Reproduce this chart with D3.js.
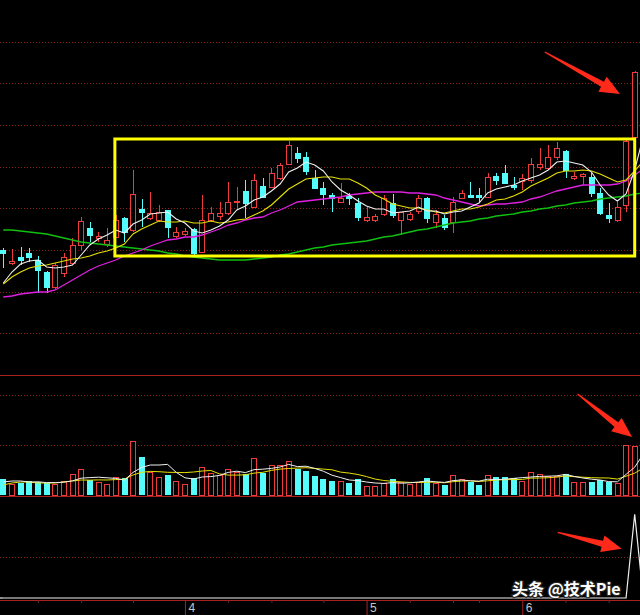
<!DOCTYPE html>
<html>
<head>
<meta charset="utf-8">
<script src="https://cdn.jsdelivr.net/npm/d3@7"></script>
<style>
html, body { margin: 0; padding: 0; background: #000; overflow: hidden; }
</style>
</head>
<body>
<script>
// daily candles (price, yuan)
var opens  = [5.81,5.68,5.74,5.78,5.71,5.59,5.44,5.58,5.68,5.86, 6.03,5.93,5.87,5.94,6.13,6.01,6.22,6.13,6.11,6.21,
              5.95,5.97,6.02,5.79,6.11,6.15,6.18,6.29,6.40,6.24, 6.45,6.44,6.53,6.67,6.78,6.74,6.53,6.43,6.36,6.29,
              6.35,6.28,6.11,6.11,6.17,6.28,6.11,6.12,6.20,6.33, 6.09,6.13,6.09,6.33,6.36,6.36,6.34,6.55,6.58,6.46,
              6.50,6.51,6.64,6.63,6.74,6.80,6.53,6.55,6.54,6.38, 6.16,6.11,6.26,6.94];
var closes = [5.78,5.70,5.71,5.74,5.61,5.44,5.66,5.74,5.86,6.10, 5.96,5.95,5.91,6.11,5.99,6.37,6.19,6.18,6.19,6.04,
              5.99,6.00,5.78,6.11,6.18,6.18,6.29,6.30,6.28,6.51, 6.34,6.58,6.66,6.86,6.73,6.60,6.43,6.37,6.33,6.33,
              6.33,6.14,6.14,6.15,6.33,6.16,6.19,6.17,6.33,6.13, 6.17,6.04,6.29,6.38,6.34,6.34,6.54,6.51,6.48,6.44,
              6.53,6.67,6.67,6.74,6.83,6.61,6.55,6.57,6.38,6.18, 6.13,6.24,6.90,7.59];
var highs  = [5.83,5.82,5.84,5.83,5.75,5.60,5.68,5.78,5.93,6.14, 6.09,5.99,6.03,6.16,6.14,6.61,6.32,6.39,6.26,6.21,
              6.04,6.03,6.03,6.36,6.24,6.29,6.49,6.44,6.51,6.57, 6.53,6.63,6.68,6.90,6.84,6.79,6.61,6.49,6.38,6.48,
              6.38,6.33,6.24,6.17,6.36,6.37,6.19,6.19,6.36,6.34, 6.21,6.16,6.34,6.41,6.49,6.43,6.58,6.58,6.66,6.54,
              6.57,6.73,6.83,6.86,6.89,6.81,6.59,6.58,6.58,6.43, 6.28,6.29,6.91,7.60];
var lows   = [5.63,5.66,5.66,5.69,5.38,5.38,5.42,5.54,5.66,5.81, 5.89,5.89,5.84,5.93,5.89,5.99,6.04,6.11,6.09,5.93,
              5.93,5.95,5.76,5.78,6.09,6.11,6.16,6.21,6.13,6.23, 6.33,6.43,6.51,6.66,6.68,6.56,6.42,6.26,6.19,6.28,
              6.26,6.10,6.09,6.09,6.15,6.13,5.96,6.10,6.17,6.08, 6.03,6.01,5.98,6.32,6.33,6.29,6.34,6.46,6.47,6.41,
              6.41,6.48,6.61,6.61,6.71,6.53,6.51,6.46,6.34,6.16, 6.08,6.09,6.19,6.91];

// volume (10k lots)
var volumes = [16,11,12,14,13,12,11,14,21,26, 15,13,11,18,17,54,38,23,18,20, 14,11,17,28,22,20,26,23,21,37,
               22,30,30,34,26,24,19,16,14,14, 12,16,9,9,12,16,13,11,13,17, 12,10,20,16,13,10,20,18,18,17,
               14,23,21,19,19,21,13,13,13,15, 13,12,50,49];

// moving averages (last value belongs to the next, off-screen day)
var ma5  = [5.48,5.59,5.67,5.70,5.71,5.64,5.63,5.64,5.66,5.76, 5.86,5.92,5.96,6.01,5.98,6.07,6.11,6.17,6.18,6.19,
            6.12,6.08,6.00,5.98,6.01,6.05,6.11,6.21,6.25,6.31, 6.34,6.40,6.47,6.59,6.63,6.69,6.66,6.60,6.49,6.41,
            6.36,6.30,6.25,6.22,6.22,6.18,6.19,6.20,6.24,6.20, 6.20,6.17,6.19,6.20,6.24,6.28,6.38,6.42,6.44,6.46,
            6.50,6.53,6.56,6.61,6.69,6.70,6.68,6.66,6.59,6.46, 6.36,6.30,6.37,6.61,6.95];
var ma10 = [5.47,5.54,5.59,5.63,5.65,5.66,5.68,5.70,5.72,5.73, 5.75,5.78,5.80,5.83,5.87,5.97,6.02,6.06,6.10,6.09,
            6.09,6.10,6.08,6.08,6.10,6.08,6.09,6.11,6.12,6.16, 6.20,6.26,6.34,6.42,6.47,6.52,6.53,6.54,6.54,6.52,
            6.52,6.48,6.43,6.36,6.32,6.27,6.25,6.23,6.23,6.21, 6.19,6.18,6.20,6.22,6.22,6.24,6.27,6.31,6.32,6.35,
            6.39,6.45,6.49,6.53,6.58,6.60,6.60,6.61,6.60,6.57, 6.53,6.49,6.51,6.60,6.70];
var ma20 = [5.34,5.35,5.37,5.38,5.39,5.39,5.41,5.46,5.51,5.56, 5.61,5.65,5.68,5.71,5.75,5.78,5.81,5.85,5.88,5.91,
            5.92,5.94,5.94,5.96,5.99,6.02,6.06,6.08,6.11,6.13, 6.14,6.18,6.21,6.25,6.29,6.30,6.31,6.32,6.33,6.34,
            6.36,6.37,6.38,6.39,6.39,6.39,6.39,6.38,6.38,6.37, 6.36,6.33,6.31,6.29,6.27,6.25,6.26,6.27,6.27,6.28,
            6.29,6.32,6.34,6.37,6.40,6.42,6.44,6.46,6.46,6.46, 6.46,6.47,6.50,6.56,6.62];
var ma60 = [6.01,6.01,6.00,5.99,5.98,5.97,5.95,5.93,5.91,5.89, 5.88,5.87,5.86,5.85,5.84,5.83,5.82,5.81,5.80,5.78,
            5.77,5.75,5.74,5.73,5.72,5.71,5.71,5.71,5.71,5.72, 5.73,5.74,5.76,5.77,5.79,5.81,5.83,5.84,5.86,5.87,
            5.88,5.89,5.90,5.92,5.94,5.95,5.97,5.99,6.01,6.02, 6.04,6.06,6.08,6.09,6.10,6.12,6.13,6.15,6.16,6.17,
            6.19,6.20,6.22,6.23,6.25,6.26,6.28,6.29,6.30,6.32, 6.33,6.34,6.35,6.37,6.38];
var volMa5  = [13,14,14,13,13.2,12.4,12.4,12.8,14.2,16.8, 17.4,17.8,17.2,16.6,14.8,22.6,27.6,30,30,30.6,
               22.6,17.2,16,18,18.4,19.6,22.6,23.8,22.4,25.4, 25.8,26.6,28,30.6,28.4,28.8,26.6,23.8,19.8,17.4,
               15,14.4,13,12,11.6,12.4,11.8,12.2,13,14, 13.2,12.6,14.4,15,14.2,13.8,15.8,15.4,15.8,16.6,
               17.4,18,18.6,18.8,19.2,20.6,18.6,17,15.8,15, 13.4,13.2,20.6,27.8,41];
var volMa10 = [10,12,13,13,12,12,12,13,14,15, 14.9,15.1,15,15.4,15.8,20,22.7,23.6,23.3,22.7,
               22.6,22.4,23,24,24.5,21.1,19.9,19.9,20.2,21.9, 22.7,24.6,25.9,26.5,26.9,27.3,26.6,25.9,25.2,22.9,
               21.9,20.5,18.4,15.9,14.5,13.7,13.1,12.6,12.5,12.8, 12.8,12.2,13.3,14,14.1,13.5,14.2,14.9,15.4,15.4,
               15.6,16.9,17,17.3,17.9,19,18.3,17.8,17.3,17.1, 17,15.9,18.8,21.8,27];

// bottom indicator
var signal = [0,0,0,0,0,0,0,0,0,0, 0,0,0,0,0,0,0,0,0,0, 0,0,0,0,0,0,0,0,0,0, 0,0,0,0,0,0,0,0,0,0,
              0,0,0,0,0,0,0,0,0,0, 0,0,0,0,0,0,0,0,0,0, 0,0,0,0,0,0,0,0,0,0, 0,0,0,102,0];

// x axis: month starts and weekly marks (day index)
var monthTicks = [21, 42, 60];
var monthLabels = ['4', '5', '6'];
var weekTicks = [4, 9, 15, 26, 31, 37, 47, 52, 55, 65, 70];

// annotations, in day index / value units
var boxDays = [12.9, 73], boxPrices = [5.75, 6.92];
var arrowPrice = [[62.6, 7.79], [71.3, 7.37]];
var arrowVol = [[66.4, 101], [72.7, 58]];
var arrowSig = [[64.1, 80], [71.5, 60]];

var W = 640, H = 615;
var RED = '#ee3b3b', CYAN = '#54fcfc', GRID = '#8a1e1e', LINE = '#a82222';

var svg = d3.select('body').append('svg')
  .attr('width', W).attr('height', H)
  .style('background', '#000')
  .style('display', 'block');

var n = closes.length;
var x = d3.scaleLinear().domain([0, n - 1]).range([3.3, 634.7]);
var bw = (x(1) - x(0)) * 0.66;
var y = d3.scaleLinear().domain([4.56, 8.31]).range([375, 0]);
var vy = d3.scaleLinear().domain([0, 120]).range([495, 375]);
var sy = d3.scaleLinear().domain([0, 123]).range([598, 497]);

function up(i){ return closes[i] >= opens[i]; }
function px(v){ return Math.round(v) + 0.5; }

// grid
var grid = svg.append('g');
var gy = d3.range(1, 9).map(function(k){ return 375 * k / 9; })
  .concat([vy(50), vy(100), sy(50)]);
grid.selectAll('line.dot').data(gy).enter().append('line')
  .attr('x1', 0).attr('x2', W)
  .attr('y1', function(d){ return px(d); }).attr('y2', function(d){ return px(d); })
  .attr('stroke', GRID).attr('stroke-dasharray', '1,2');
grid.selectAll('line.sep').data([375, 496, 600]).enter().append('line')
  .attr('x1', 0).attr('x2', W)
  .attr('y1', function(d){ return d + 0.5; }).attr('y2', function(d){ return d + 0.5; })
  .attr('stroke', LINE);

// candles
var days = d3.range(n);
var cg = svg.append('g').attr('shape-rendering', 'crispEdges');
cg.selectAll('line.wick').data(days).enter().append('line')
  .attr('x1', function(i){ return px(x(i)); }).attr('x2', function(i){ return px(x(i)); })
  .attr('y1', function(i){ return y(highs[i]); }).attr('y2', function(i){ return y(lows[i]); })
  .attr('stroke', function(i){ return up(i) ? RED : CYAN; });
cg.selectAll('rect.body').data(days).enter().append('rect')
  .attr('x', function(i){ return up(i) ? px(x(i) - bw / 2) : Math.round(x(i) - bw / 2); })
  .attr('width', function(i){ return up(i) ? Math.round(bw) - 1 : Math.round(bw); })
  .attr('y', function(i){ var t = Math.round(y(Math.max(opens[i], closes[i]))); return up(i) ? t + 0.5 : t; })
  .attr('height', function(i){
    var t = Math.round(y(Math.max(opens[i], closes[i]))), b = Math.round(y(Math.min(opens[i], closes[i])));
    return Math.max(up(i) ? b - t : b - t + 1, 1);
  })
  .attr('fill', function(i){ return up(i) ? '#000' : CYAN; })
  .attr('stroke', function(i){ return up(i) ? RED : 'none'; });

// volume bars
var vg = svg.append('g').attr('shape-rendering', 'crispEdges');
vg.selectAll('rect').data(days).enter().append('rect')
  .attr('x', function(i){ return up(i) ? px(x(i) - bw / 2) : Math.round(x(i) - bw / 2); })
  .attr('width', function(i){ return up(i) ? Math.round(bw) - 1 : Math.round(bw); })
  .attr('y', function(i){ return up(i) ? px(vy(volumes[i])) : Math.round(vy(volumes[i])); })
  .attr('height', function(i){ return Math.round(vy(0)) - Math.round(vy(volumes[i])); })
  .attr('fill', function(i){ return up(i) ? '#000' : CYAN; })
  .attr('stroke', function(i){ return up(i) ? RED : 'none'; });

// lines
function drawLine(vals, scale, color, width){
  svg.append('path').datum(vals)
    .attr('d', d3.line().x(function(d, i){ return x(i); }).y(function(d){ return scale(d); }))
    .attr('fill', 'none').attr('stroke', color).attr('stroke-width', width);
}
drawLine(ma60, y, '#10c010', 1.3);
drawLine(ma20, y, '#e020e0', 1.3);
drawLine(ma10, y, '#e8e000', 1.1);
drawLine(ma5, y, '#f0f0f0', 1.1);
drawLine(volMa10, vy, '#e8e000', 1);
drawLine(volMa5, vy, '#f0f0f0', 1);
svg.append('line').attr('x1', 0).attr('x2', x(0)).attr('y1', sy(0)).attr('y2', sy(0))
  .attr('stroke', '#f0f0f0').attr('stroke-width', 1.2);
drawLine(signal, sy, '#f0f0f0', 1.2);

// x axis
var axis = svg.append('g').attr('transform', 'translate(0,600)')
  .call(d3.axisBottom(x).tickValues(monthTicks).tickSize(15)
    .tickFormat(function(d, i){ return monthLabels[i]; }));
axis.select('.domain').remove();
axis.selectAll('line').attr('stroke', LINE);
axis.selectAll('text')
  .attr('x', 3).attr('y', 3).attr('dy', '0.71em')
  .style('text-anchor', 'start')
  .attr('fill', '#c8c8c8')
  .style('font', '12px "Liberation Sans", Arial, sans-serif');
var minor = svg.append('g').attr('transform', 'translate(0,600)')
  .call(d3.axisBottom(x).tickValues(weekTicks).tickSize(3).tickFormat(''));
minor.select('.domain').remove();
minor.selectAll('line').attr('stroke', '#7a2020');

// yellow box
svg.append('rect')
  .attr('x', x(boxDays[0])).attr('y', y(boxPrices[1]))
  .attr('width', x(boxDays[1]) - x(boxDays[0]))
  .attr('height', y(boxPrices[0]) - y(boxPrices[1]))
  .attr('fill', 'none').attr('stroke', '#ffff00').attr('stroke-width', 3);

// red arrows
function arrowPts(x0, y0, x1, y1){
  var dx = x1 - x0, dy = y1 - y0, L = Math.hypot(dx, dy);
  var ux = dx / L, uy = dy / L, nx = -uy, ny = ux;
  var hl = 20, hw = 8.5, sw = 3;
  var bx = x1 - ux * hl, by = y1 - uy * hl;
  return [[x0 + nx * 0.6, y0 + ny * 0.6], [bx + nx * sw, by + ny * sw], [bx + nx * hw, by + ny * hw],
          [x1, y1], [bx - nx * hw, by - ny * hw], [bx - nx * sw, by - ny * sw], [x0 - nx * 0.6, y0 - ny * 0.6]];
}
[[arrowPrice, y], [arrowVol, vy], [arrowSig, sy]].forEach(function(a){
  var p = a[0], s = a[1];
  svg.append('path')
    .attr('d', d3.line()(arrowPts(x(p[0][0]), s(p[0][1]), x(p[1][0]), s(p[1][1]))) + 'Z')
    .attr('fill', '#ff2a1a');
});

// watermark
svg.append('text')
  .attr('x', 512).attr('y', 595)
  .attr('fill', '#ffffff')
  .attr('stroke', 'rgba(40,40,40,0.85)').attr('stroke-width', 2.5)
  .style('paint-order', 'stroke')
  .style('font', 'bold 16px "Noto Sans CJK SC", sans-serif')
  .text('头条 @技术Pie');
</script>
</body>
</html>
